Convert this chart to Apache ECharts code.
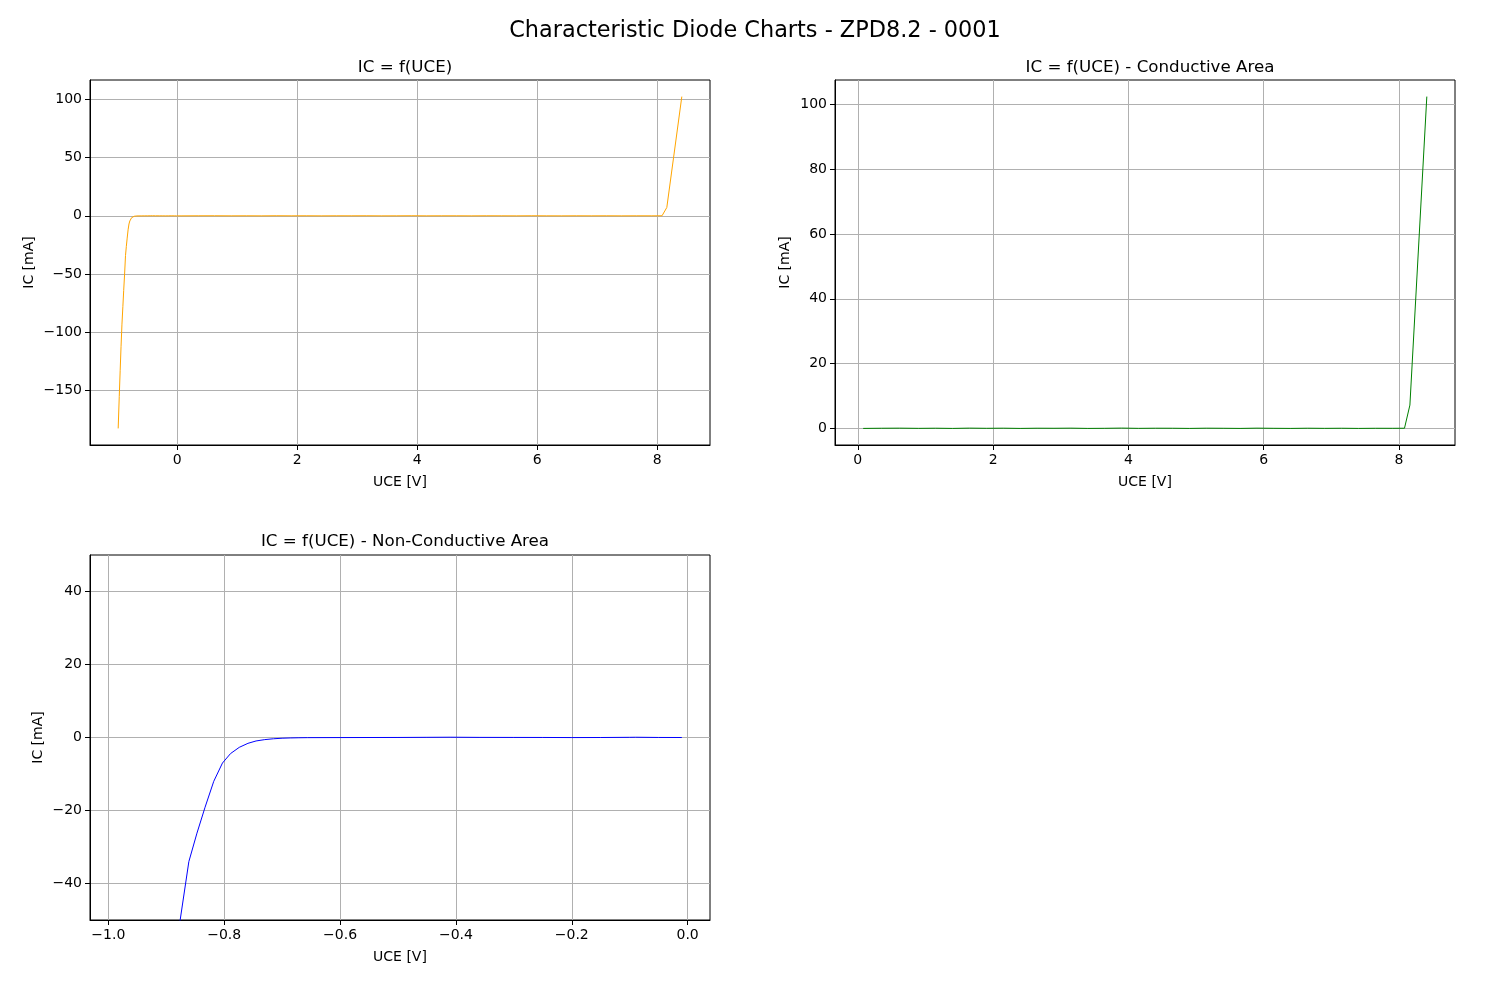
<!DOCTYPE html>
<html><head><meta charset="utf-8">
<script src="https://cdn.jsdelivr.net/npm/echarts@6/dist/echarts.min.js"></script>
<style>html,body{margin:0;padding:0;background:#fff}#c{width:1500px;height:1000px}</style>
</head><body><div id="c"></div>
<script>
// Reverse (non-conductive) region: UCE [V], IC [mA]
const revU = [-0.983, -0.965, -0.950, -0.935, -0.920, -0.905, -0.891, -0.876, -0.861, -0.847, -0.833, -0.818, -0.803, -0.789, -0.774, -0.759, -0.745, -0.730, -0.715, -0.700, -0.686, -0.671, -0.656, -0.60, -0.55, -0.50, -0.45, -0.41, -0.36, -0.30, -0.25, -0.20, -0.15, -0.10, -0.09, -0.05, -0.01];
const revI = [-182.5, -155, -133, -112, -93, -78, -64, -50, -34, -26.2, -19.1, -12.0, -7.0, -4.4, -2.7, -1.6, -0.95, -0.58, -0.35, -0.2, -0.12, -0.07, -0.04, -0.02, 0.0, 0.01, 0.05, 0.08, 0.03, 0.02, 0.01, -0.02, 0.0, 0.05, 0.07, 0.01, 0.0];
// Forward (conductive) region
const fwdU = [0.08, 0.35, 0.62, 0.9, 1.15, 1.4, 1.65, 1.9, 2.15, 2.4, 2.65, 2.9, 3.15, 3.4, 3.65, 3.9, 4.15, 4.4, 4.65, 4.9, 5.15, 5.4, 5.65, 5.9, 6.15, 6.4, 6.65, 6.9, 7.15, 7.4, 7.65, 7.9, 8.08, 8.16, 8.41];
const fwdI = [0.0, 0.05, 0.08, 0.02, 0.06, 0.0, 0.09, 0.03, 0.07, 0.0, 0.06, 0.04, 0.08, 0.0, 0.03, 0.1, 0.02, 0.06, 0.05, 0.0, 0.07, 0.04, 0.0, 0.08, 0.03, 0.0, 0.06, 0.02, 0.05, 0.0, 0.04, 0.03, 0.05, 7.2, 102.4];

const xTicksAll = [0, 2, 4, 6, 8];
const yTicksAll = [-150, -100, -50, 0, 50, 100];
const xTicksCond = [0, 2, 4, 6, 8];
const yTicksCond = [0, 20, 40, 60, 80, 100];
const xTicksNon = [-1.0, -0.8, -0.6, -0.4, -0.2, 0.0];
const yTicksNon = [-40, -20, 0, 20, 40];
const yLimNon = [-50, 50];

const FONT = 'DejaVu Sans';
function pairs(u, i) { return u.map((v, k) => [v, i[k]]); }
function pad(arr) { const mn = Math.min(...arr), mx = Math.max(...arr), m = (mx - mn) * 0.05; return [mn - m, mx + m]; }
const intFmt = v => String(Math.round(v)).replace('-', '\u2212');
const dec1Fmt = v => v.toFixed(1).replace('-', '\u2212');

const allU = revU.concat(fwdU), allI = revI.concat(fwdI);

function axis(gridIndex, lim, ticks, fmt, name, gap) {
  return {
    type: 'value', gridIndex, min: lim[0], max: lim[1],
    name, nameLocation: 'middle', nameGap: gap,
    nameTextStyle: { fontFamily: FONT, fontSize: 14, color: '#000' },
    axisLine: { show: true, onZero: false, lineStyle: { color: '#000', width: 1 } },
    axisTick: { show: true, inside: false, length: 5, customValues: ticks, lineStyle: { color: '#000', width: 1 } },
    axisLabel: { customValues: ticks, formatter: fmt, fontFamily: FONT, fontSize: 14, color: '#000', margin: 8 },
    splitLine: { show: true, lineStyle: { color: '#b0b0b0', width: 1 } }
  };
}
function grid(l, t) { return { left: l, top: t, width: 620, height: 365, show: true, borderColor: '#000', borderWidth: 1, backgroundColor: 'transparent' }; }
function series(idx, data, color) {
  return { type: 'line', xAxisIndex: idx, yAxisIndex: idx, data, symbol: 'none', showSymbol: false, clip: true,
    lineStyle: { color, width: 1 }, itemStyle: { color }, animation: false };
}

const chart = echarts.init(document.getElementById('c'));
chart.setOption({
  animation: false,
  backgroundColor: '#fff',
  title: [
    { text: 'Characteristic Diode Charts - ZPD8.2 - 0001', left: 750, top: 15, textAlign: 'center', textStyle: { fontFamily: FONT, fontSize: 22.4, fontWeight: 'normal', color: '#000' } },
    { text: 'IC = f(UCE)', left: 400, top: 54, textAlign: 'center', textStyle: { fontFamily: FONT, fontSize: 16.7, fontWeight: 'normal', color: '#000' } },
    { text: 'IC = f(UCE) - Conductive Area', left: 1145, top: 54, textAlign: 'center', textStyle: { fontFamily: FONT, fontSize: 16.7, fontWeight: 'normal', color: '#000' } },
    { text: 'IC = f(UCE) - Non-Conductive Area', left: 400, top: 528, textAlign: 'center', textStyle: { fontFamily: FONT, fontSize: 16.7, fontWeight: 'normal', color: '#000' } }
  ],
  grid: [grid(90, 80), grid(835, 80), grid(90, 555)],
  xAxis: [
    axis(0, pad(allU), xTicksAll, intFmt, 'UCE [V]', 30),
    axis(1, pad(fwdU), xTicksCond, intFmt, 'UCE [V]', 30),
    axis(2, pad(revU), xTicksNon, dec1Fmt, 'UCE [V]', 30)
  ],
  yAxis: [
    axis(0, pad(allI), yTicksAll, intFmt, 'IC [mA]', 54),
    axis(1, pad(fwdI), yTicksCond, intFmt, 'IC [mA]', 43),
    axis(2, yLimNon, yTicksNon, intFmt, 'IC [mA]', 45)
  ],
  series: [
    series(0, pairs(allU, allI), '#ffa500'),
    series(1, pairs(fwdU, fwdI), '#008000'),
    series(2, pairs(revU, revI), '#0000ff')
  ]
});
</script></body></html>
